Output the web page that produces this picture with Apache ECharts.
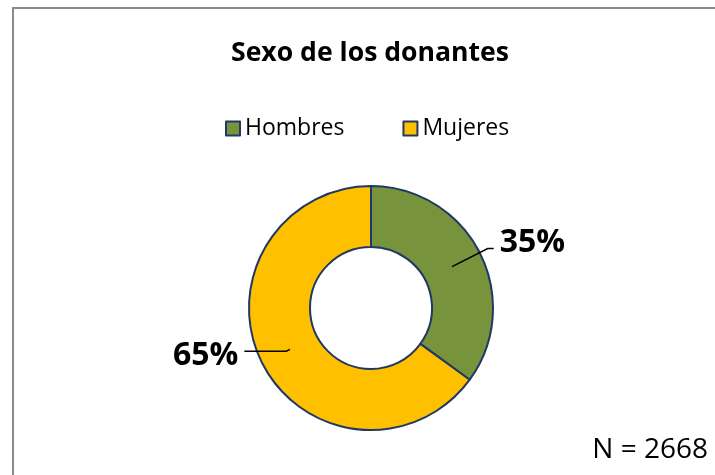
<!DOCTYPE html>
<html>
<head>
<meta charset="utf-8">
<script src="https://cdn.jsdelivr.net/npm/echarts@6/dist/echarts.min.js"></script>
<style>
html,body{margin:0;padding:0;background:#fff;}
#chart{width:715px;height:475px;}
</style>
</head>
<body>
<div id="chart"></div>
<script>
var titleText = 'Sexo de los donantes';
var categories = ['Hombres', 'Mujeres'];
var values = [35, 65];
var colors = ['#77933C', '#FFC000'];
var noteText = 'N = 2668';

var FONT = 'Open Sans';
// leader-line geometry per slice (layout, not data)
var lineLen = [40, 4];
var lineLen2 = [6, 42];
var spacerPos = ['below', 'above'];
var spacerH = [12, 10];

var mainData = categories.map(function (c, i) {
  return { name: c, value: values[i], itemStyle: { color: colors[i] } };
});
var labelData = categories.map(function (c, i) {
  return {
    name: c,
    value: values[i],
    labelLine: { length: lineLen[i], length2: lineLen2[i] }
  };
});

var chart = echarts.init(document.getElementById('chart'), null, { renderer: 'canvas' });
chart.setOption({
  animation: false,
  backgroundColor: '#ffffff',
  title: {
    text: titleText,
    left: 226,
    top: 35,
    textStyle: { fontFamily: FONT, fontWeight: 'bold', fontSize: 26.6, color: '#000' }
  },
  legend: {
    data: categories,
    top: 112,
    left: 220,
    itemWidth: 14,
    itemHeight: 14,
    itemGap: 58,
    icon: 'rect',
    selectedMode: false,
    itemStyle: { borderColor: '#1F3864', borderWidth: 2 },
    textStyle: { fontFamily: FONT, fontSize: 23, color: '#000' }
  },
  graphic: [
    {
      type: 'rect',
      silent: true,
      shape: { x: 13, y: 8, width: 740, height: 500 },
      style: { fill: 'none', stroke: '#8a8a8a', lineWidth: 2 }
    },
    {
      type: 'text',
      right: 7,
      top: 436,
      style: { text: noteText, fontFamily: FONT, fontSize: 28, fill: '#000' }
    }
  ],
  series: [
    {
      type: 'pie',
      z: 1,
      center: [371, 308],
      radius: [61, 122],
      startAngle: 90,
      clockwise: true,
      silent: true,
      label: { show: false },
      labelLine: { show: false },
      itemStyle: { borderColor: '#1F3864', borderWidth: 2 },
      emphasis: { disabled: true },
      data: mainData
    },
    {
      type: 'pie',
      z: 5,
      center: [371, 308],
      radius: [61, 91],
      startAngle: 90,
      clockwise: true,
      silent: true,
      avoidLabelOverlap: false,
      itemStyle: { color: 'rgba(0,0,0,0)', borderWidth: 0 },
      emphasis: { disabled: true },
      label: {
        show: true,
        position: 'outside',
        formatter: function (p) {
          var i = p.dataIndex;
          var t = '{v|' + p.value + '%}';
          return spacerPos[i] === 'below' ? t + '\n{s' + i + '| }' : '{s' + i + '| }\n' + t;
        },
        rich: {
          v: { fontFamily: FONT, fontWeight: 'bold', fontSize: 32, color: '#000' },
          s0: { fontSize: 4, height: spacerH[0], lineHeight: spacerH[0] },
          s1: { fontSize: 4, height: spacerH[1], lineHeight: spacerH[1] }
        },
        distanceToLabelLine: 6
      },
      labelLine: { show: true, lineStyle: { color: '#000', width: 1.5 } },
      data: labelData
    }
  ]
});
</script>
</body>
</html>
